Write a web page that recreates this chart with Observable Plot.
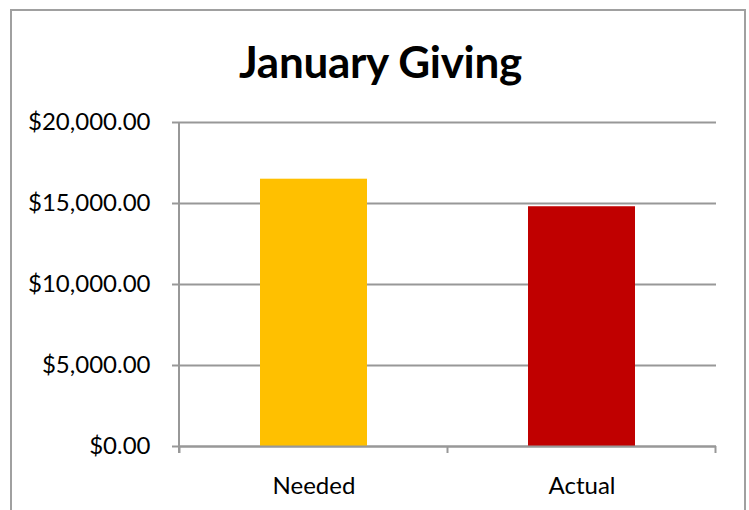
<!DOCTYPE html>
<html>
<head>
<meta charset="utf-8">
<script src="https://cdn.jsdelivr.net/npm/d3@7"></script>
<script src="https://cdn.jsdelivr.net/npm/@observablehq/plot@0.6"></script>
<style>
  html, body { margin: 0; padding: 0; background: #fff; }
  #wrap { position: relative; width: 749px; height: 510px; overflow: hidden; background: #fff; }
  #border { position: absolute; left: 10px; top: 9px; width: 732px; height: 560px; border: 2px solid #a0a0a0; box-sizing: content-box; }
  #title { position: relative; width: 761px; height: 100px; box-sizing: border-box; padding-top: 35px;
           text-align: center; font-family: Lato, "Open Sans", sans-serif; font-weight: 700; font-size: 44px;
           line-height: 1.2; color: #000; letter-spacing: -0.3px; }
  #chart { position: relative; }
</style>
</head>
<body>
<div id="wrap">
  <div id="border"></div>
  <div id="title">January Giving</div>
  <div id="chart"></div>
</div>
<script>
const categories = ["Needed", "Actual"];
const amounts = [16500, 14800];
const barColors = ["#FFC000", "#C00000"];
const yTicks = [0, 5000, 10000, 15000, 20000];

const data = categories.map((c, i) => ({category: c, amount: amounts[i], color: barColors[i]}));
const gray = "#989898";

function axisDecor(index, scales, values, dimensions) {
  const x = scales.x, y = scales.y;
  const g = d3.create("svg:g").attr("stroke", gray).attr("stroke-width", 2).attr("fill", "none");
  const left = dimensions.marginLeft;
  const y0 = y(0), yTop = y(d3.max(yTicks));
  // vertical value axis line
  g.append("line").attr("x1", left).attr("x2", left).attr("y1", yTop).attr("y2", y0 + 7);
  // category-boundary ticks
  const step = x.step ? x.step() : 0;
  const bw = x.bandwidth ? x.bandwidth() : 0;
  const edges = [];
  categories.forEach((c, i) => {
    const center = x(c) + bw / 2;
    if (i === 0) edges.push(center - step / 2);
    edges.push(center + step / 2);
  });
  edges.forEach(e => g.append("line").attr("x1", e).attr("x2", e).attr("y1", y0).attr("y2", y0 + 7));
  return g.node();
}

const chart = Plot.plot({
  width: 749,
  height: 410,
  marginLeft: 179,
  marginRight: 33,
  marginTop: 22,
  marginBottom: 64,
  style: {background: "transparent", overflow: "visible"},
  x: {domain: categories, paddingInner: 0.6, paddingOuter: 0.3, label: null},
  y: {domain: [0, 20000], ticks: yTicks, label: null},
  marks: [
    Plot.gridY(yTicks, {stroke: gray, strokeWidth: 2, strokeOpacity: 1}),
    Plot.barY(data, {x: "category", y: "amount", fill: "color"}),
    Plot.ruleY([0], {stroke: gray, strokeWidth: 2}),
    Plot.axisY(yTicks, {tickSize: 7, tickPadding: 22, tickFormat: d3.format("$,.2f"), stroke: gray, strokeWidth: 2,
      fontSize: 24, fontFamily: "Lato, 'Open Sans', sans-serif", fill: "#000"}),
    Plot.axisX({tickSize: 0, tickPadding: 30, fontSize: 24, fontFamily: "Lato, 'Open Sans', sans-serif", fill: "#000"}),
    axisDecor
  ]
});
document.getElementById("chart").appendChild(chart);
</script>
</body>
</html>
